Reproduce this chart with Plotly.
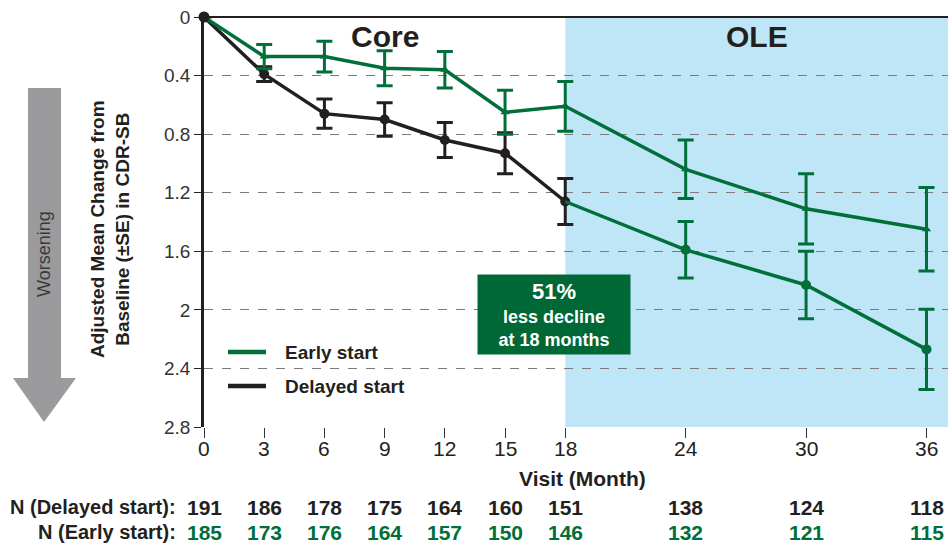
import plotly.graph_objects as go

# ---------------- data ----------------
months = [0, 3, 6, 9, 12, 15, 18, 24, 30, 36]
month_labels = ["0", "3", "6", "9", "12", "15", "18", "24", "30", "36"]
early_mean = [0.0, 0.27, 0.27, 0.35, 0.36, 0.65, 0.61, 1.04, 1.31, 1.45]
early_se = [0.0, 0.083, 0.105, 0.12, 0.125, 0.15, 0.17, 0.20, 0.24, 0.285]
delayed_mean = [0.0, 0.39, 0.66, 0.70, 0.84, 0.93, 1.26, 1.59, 1.83, 2.27]
delayed_se = [0.0, 0.05, 0.10, 0.115, 0.12, 0.14, 0.157, 0.193, 0.23, 0.274]
n_delayed = [191, 186, 178, 175, 164, 160, 151, 138, 124, 118]
n_early = [185, 173, 176, 164, 157, 150, 146, 132, 121, 115]
core_end = 18
y_ticks = [0, 0.4, 0.8, 1.2, 1.6, 2, 2.4, 2.8]
y_tick_labels = ["0", "0.4", "0.8", "1.2", "1.6", "2", "2.4", "2.8"]

# ---------------- style / layout ----------------
W, H = 948, 547
ML, MT, MB, MR = 204, 17, 120, 0
PW, PH = W - ML - MR, H - MT - MB
X_MAX = PW / ((926.5 - 204) / 36)
GREEN = "#006F3A"
BOX_GREEN = "#006837"
BLACK = "#231F20"
BLUE = "#BEE6F6"
ARROW = "#9B9B9D"
SANS = "Liberation Sans, Arial, sans-serif"


def px_x(px):
    return (px - ML) / PW


def px_y(py):
    return (H - MB - py) / PH


split = months.index(core_end)
fig = go.Figure()

fig.add_trace(go.Scatter(
    x=months[:split + 1], y=delayed_mean[:split + 1],
    mode="lines+markers",
    line=dict(color=BLACK, width=3.5),
    marker=dict(color=BLACK, size=10, symbol="circle"),
    error_y=dict(type="data", array=delayed_se[:split + 1], color=BLACK,
                 thickness=3, width=8),
    cliponaxis=False, showlegend=False, hoverinfo="skip"))

fig.add_trace(go.Scatter(
    x=months[split:], y=delayed_mean[split:], mode="lines",
    line=dict(color=GREEN, width=3.5),
    cliponaxis=False, showlegend=False, hoverinfo="skip"))
fig.add_trace(go.Scatter(
    x=months[split + 1:], y=delayed_mean[split + 1:], mode="markers",
    marker=dict(color=GREEN, size=10, symbol="circle"),
    error_y=dict(type="data", array=delayed_se[split + 1:], color=GREEN,
                 thickness=3, width=8),
    cliponaxis=False, showlegend=False, hoverinfo="skip"))

fig.add_trace(go.Scatter(
    x=months[1:], y=early_mean[1:], mode="markers",
    marker=dict(color=GREEN, size=8, symbol="triangle-up"),
    error_y=dict(type="data", array=early_se[1:], color=GREEN,
                 thickness=3, width=8),
    cliponaxis=False, showlegend=False, hoverinfo="skip"))
fig.add_trace(go.Scatter(
    x=months, y=early_mean, mode="lines",
    line=dict(color=GREEN, width=3.5),
    cliponaxis=False, showlegend=False, hoverinfo="skip"))

fig.add_trace(go.Scatter(
    x=months[:1], y=delayed_mean[:1], mode="markers",
    marker=dict(color=BLACK, size=11),
    cliponaxis=False, showlegend=False, hoverinfo="skip"))

shapes = [
    dict(type="rect", xref="x", yref="paper", x0=core_end, x1=X_MAX, y0=0, y1=1,
         fillcolor=BLUE, line=dict(width=0), layer="below"),
    dict(type="line", xref="paper", yref="paper", x0=px_x(228), x1=px_x(266),
         y0=px_y(352), y1=px_y(352), line=dict(color=GREEN, width=4.5)),
    dict(type="line", xref="paper", yref="paper", x0=px_x(228), x1=px_x(266),
         y0=px_y(386), y1=px_y(386), line=dict(color=BLACK, width=4.5)),
]

arrow_pts = [(28, 88), (61, 88), (61, 378), (76, 378), (44, 422), (13, 378), (28, 378)]
path = "M " + " L ".join(f"{px_x(a):.5f},{px_y(b):.5f}" for a, b in arrow_pts) + " Z"
shapes.append(dict(type="path", xref="paper", yref="paper", path=path,
                   fillcolor=ARROW, line=dict(width=0), layer="above"))


def ann(text, x, y, size, color=BLACK, xref="paper", xanchor="center", **kw):
    return dict(text=text, x=x, y=y, xref=xref, yref="paper", xanchor=xanchor,
                yanchor="middle", showarrow=False,
                font=dict(family=SANS, size=size, color=color), **kw)


annotations = [
    ann("<b>Core</b>", core_end / 2, px_y(36), 30, xref="x"),
    ann("<b>OLE</b>", (core_end + X_MAX) / 2, px_y(36), 30, xref="x"),
    ann("<span style='font-size:22px'><b>51%</b></span><br><b>less decline</b><br><b>at 18 months</b>",
        px_x(554), px_y(314), 18, color="white",
        bgcolor=BOX_GREEN, width=148, height=75, borderpad=2),
    ann("<b>Early start</b>", px_x(283), px_y(352), 19, xanchor="left"),
    ann("<b>Delayed start</b>", px_x(283), px_y(386), 19, xanchor="left"),
    ann("<b>Adjusted Mean Change from<br>Baseline (±SE) in CDR-SB</b>",
        px_x(110), px_y(229), 19, textangle=-90),
    ann("Worsening", px_x(44), px_y(254), 18, color="#3A3A3A", textangle=-90),
    ann("<b>Visit (Month)</b>", px_x(582), px_y(478), 21),
    ann("<b>N (Delayed start):</b>", px_x(178), px_y(507), 20, xanchor="right"),
    ann("<b>N (Early start):</b>", px_x(178), px_y(532), 20, xanchor="right"),
]
for m, lab, nd, ne in zip(months, month_labels, n_delayed, n_early):
    annotations.append(ann(lab, m, px_y(448), 21, xref="x"))
    annotations.append(ann(f"<b>{nd}</b>", m, px_y(507), 21, xref="x"))
    annotations.append(ann(f"<b>{ne}</b>", m, px_y(532), 21, color=GREEN, xref="x"))

fig.update_layout(
    width=W, height=H,
    margin=dict(l=ML, r=MR, t=MT, b=MB, pad=0),
    paper_bgcolor="white", plot_bgcolor="rgba(0,0,0,0)",
    shapes=shapes, annotations=annotations, showlegend=False,
    xaxis=dict(range=[0, X_MAX], tickvals=months, showticklabels=False,
               showgrid=False, zeroline=False, showline=False,
               ticks="outside", ticklen=10, tickwidth=1, tickcolor="#333"),
    yaxis=dict(range=[2.8, 0], tickvals=y_ticks, ticktext=y_tick_labels,
               ticklabeloverflow="allow",
               showgrid=True, gridcolor="#7A7A7A", gridwidth=1, griddash="dash",
               zeroline=True, zerolinecolor=BLACK, zerolinewidth=1.5,
               showline=True, linecolor=BLACK, linewidth=2.5,
               ticks="outside", ticklen=7, tickwidth=1, tickcolor=BLACK,
               tickfont=dict(family=SANS, size=19, color="#333")),
)

# remove the default page margin so the figure fills the window exactly
fig.write_html("out.html",
               config={"displayModeBar": False},
               post_script="document.body.style.margin='0';document.body.style.overflow='hidden';")
